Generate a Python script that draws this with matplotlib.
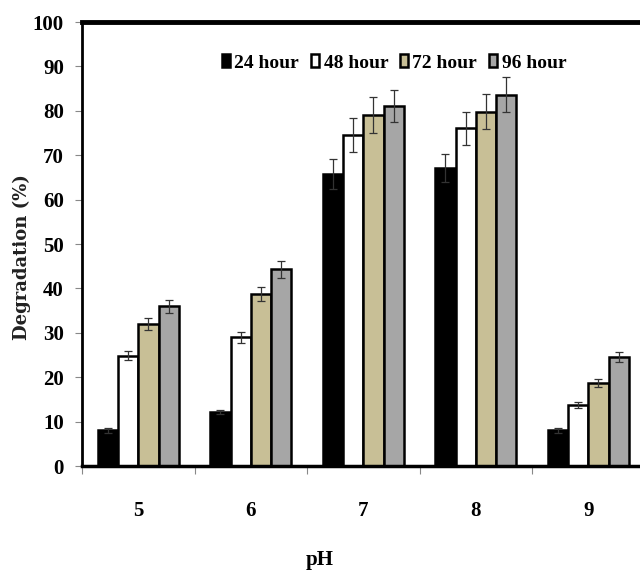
import matplotlib
matplotlib.use("Agg")
import matplotlib.pyplot as plt
import numpy as np
from matplotlib.ticker import MultipleLocator, FixedLocator

categories = ["5", "6", "7", "8", "9"]
series_names = ["24 hour", "48 hour", "72 hour", "96 hour"]
h24 = [8.0, 12.2, 65.8, 67.1, 8.0]
h48 = [24.8, 29.0, 74.6, 76.1, 13.8]
h72 = [32.0, 38.7, 79.0, 79.8, 18.8]
h96 = [36.0, 44.3, 81.0, 83.6, 24.5]
e24 = [0.5, 0.5, 3.4, 3.2, 0.5]
e48 = [1.0, 1.2, 3.8, 3.7, 0.7]
e72 = [1.3, 1.6, 4.0, 3.9, 0.9]
e96 = [1.5, 1.9, 3.6, 3.9, 1.1]
colors = ["#000000", "#ffffff", "#c8bf96", "#a6a6a6"]

plt.rcParams['font.family'] = ['Liberation Serif', 'DejaVu Serif']

fig = plt.figure(figsize=(6.4, 5.74), dpi=100)
ax = fig.add_axes([82/640, 108/574, (640-82)/640, 444/574])

x = np.arange(len(categories))
w = 0.18
vals = [h24, h48, h72, h96]
errs = [e24, e48, e72, e96]
for i, (v, e, c, n) in enumerate(zip(vals, errs, colors, series_names)):
    ax.bar(x + (i - 1.5) * w, v, w, color=c, edgecolor="black", linewidth=1.8,
           label=n, yerr=e, error_kw=dict(ecolor="#333333", elinewidth=0.9, capsize=3, capthick=0.9),
           zorder=2)

ax.set_ylim(0, 100)
ax.set_xlim(-0.5, -0.5 + 558/112.5)
ax.yaxis.set_major_locator(MultipleLocator(10))
ax.set_xticks(x)
ax.set_xticklabels(categories)
ax.xaxis.set_minor_locator(FixedLocator(np.arange(-0.5, 5, 1.0)))
ax.tick_params(axis='x', which='major', length=0, pad=25, labelsize=15)
ax.tick_params(axis='x', which='minor', length=6, color="#888888", width=0.8)
ax.tick_params(axis='y', which='major', length=5, color="#888888", width=0.8, labelsize=15, pad=8)
for lab in ax.get_xticklabels() + ax.get_yticklabels():
    lab.set_fontweight('bold')

ax.spines['right'].set_visible(False)
ax.spines['top'].set_linewidth(3.5)
ax.spines['left'].set_linewidth(2)
ax.spines['bottom'].set_linewidth(2.5)

ax.set_ylabel("Degradation (%)", fontsize=13, fontweight='bold', family=['DejaVu Serif'],
              color="#222222")
ax.yaxis.set_label_coords(-0.092, 0.47)
ax.set_xlabel("pH", fontsize=15, fontweight='bold')
ax.xaxis.set_label_coords((320 - 82) / 558, -0.19)

leg = fig.legend(loc='center', bbox_to_anchor=(394/640, 1 - 63/574), ncol=4, frameon=False,
                 handlelength=0.4, handleheight=0.6, handletextpad=0.25, columnspacing=0.6,
                 prop=dict(family='Liberation Serif', weight='bold', size=14))

fig.savefig("out.png", dpi=100)
